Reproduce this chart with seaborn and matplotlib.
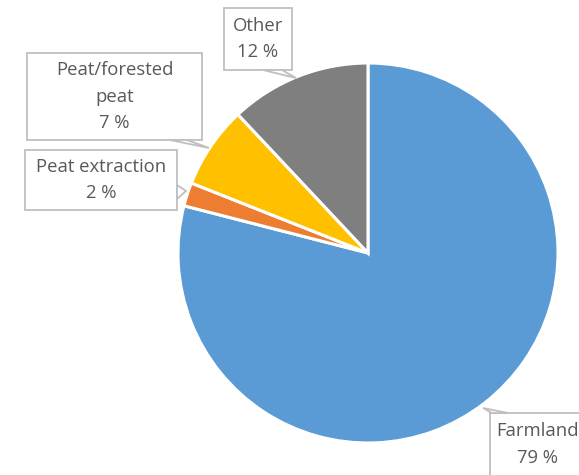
import matplotlib
matplotlib.use("Agg")
import matplotlib.pyplot as plt
from matplotlib.patches import Rectangle, Polygon
import seaborn as sns

# Share of emissions by land-use category
categories = ["Farmland", "Peat extraction", "Peat/forested peat", "Other"]
shares = [79, 2, 7, 12]
label_texts = ["Farmland\n79 %", "Peat extraction\n2 %", "Peat/forested\npeat\n7 %", "Other\n12 %"]
colors = ["#5B9BD5", "#ED7D31", "#FFC000", "#7F7F7F"]

sns.set_theme(style="white")
plt.rcParams["font.family"] = ["Open Sans", "DejaVu Sans"]

W, H = 579, 475
fig = plt.figure(figsize=(W / 100, H / 100), dpi=100)
ax = fig.add_axes([0, 0, 1, 1])

ax.pie(shares, colors=colors, startangle=90, counterclock=False, radius=1,
       center=(0, 0), wedgeprops=dict(edgecolor="white", linewidth=2.2))

# pie centre and radius in pixels; axes limits give 1 data unit = R pixels
CX, CY, R = 368, 253, 190
ax.set_aspect("auto")
ax.set_xlim(-CX / R, (W - CX) / R)
ax.set_ylim(-(H - CY) / R, CY / R)
ax.axis("off")


def px(x, y):
    return ((x - CX) / R, (CY - y) / R)


# callout boxes: (x0, y0, x1, y1) in pixels, pointer base points and tip
callouts = {
    "Farmland": dict(box=(490, 413, 585, 476), base=[(492, 413), (508, 413)], tip=(483, 408)),
    "Peat extraction": dict(box=(25, 150, 177, 210), base=[(177, 185), (177, 199)], tip=(186, 191)),
    "Peat/forested peat": dict(box=(27, 53, 202, 140), base=[(170, 140), (187, 140)], tip=(209, 148)),
    "Other": dict(box=(224, 8, 292, 70), base=[(263, 70), (282, 70)], tip=(296, 78)),
}

edge = "#BFBFBF"
for cat, txt in zip(categories, label_texts):
    c = callouts[cat]
    x0, y0, x1, y1 = c["box"]
    (ax0, ay1), (ax1, ay0) = px(x0, y0), px(x1, y1)
    ax.add_patch(Rectangle((ax0, ay0), ax1 - ax0, ay1 - ay0, facecolor="white",
                           edgecolor=edge, linewidth=1.3, zorder=3))
    pts = [px(*p) for p in c["base"]] + [px(*c["tip"])]
    ax.add_patch(Polygon(pts, closed=True, facecolor="white", edgecolor=edge,
                         linewidth=1.3, zorder=4))
    inset = 1.2 / R
    ax.add_patch(Rectangle((ax0 + inset, ay0 + inset), ax1 - ax0 - 2 * inset,
                           ay1 - ay0 - 2 * inset, facecolor="white",
                           edgecolor="none", zorder=5))
    ax.text((ax0 + ax1) / 2, (ay0 + ay1) / 2, txt, ha="center", va="center",
            fontsize=13.3, color="#595959", linespacing=1.6, zorder=6)

fig.savefig("out.png", dpi=100)
